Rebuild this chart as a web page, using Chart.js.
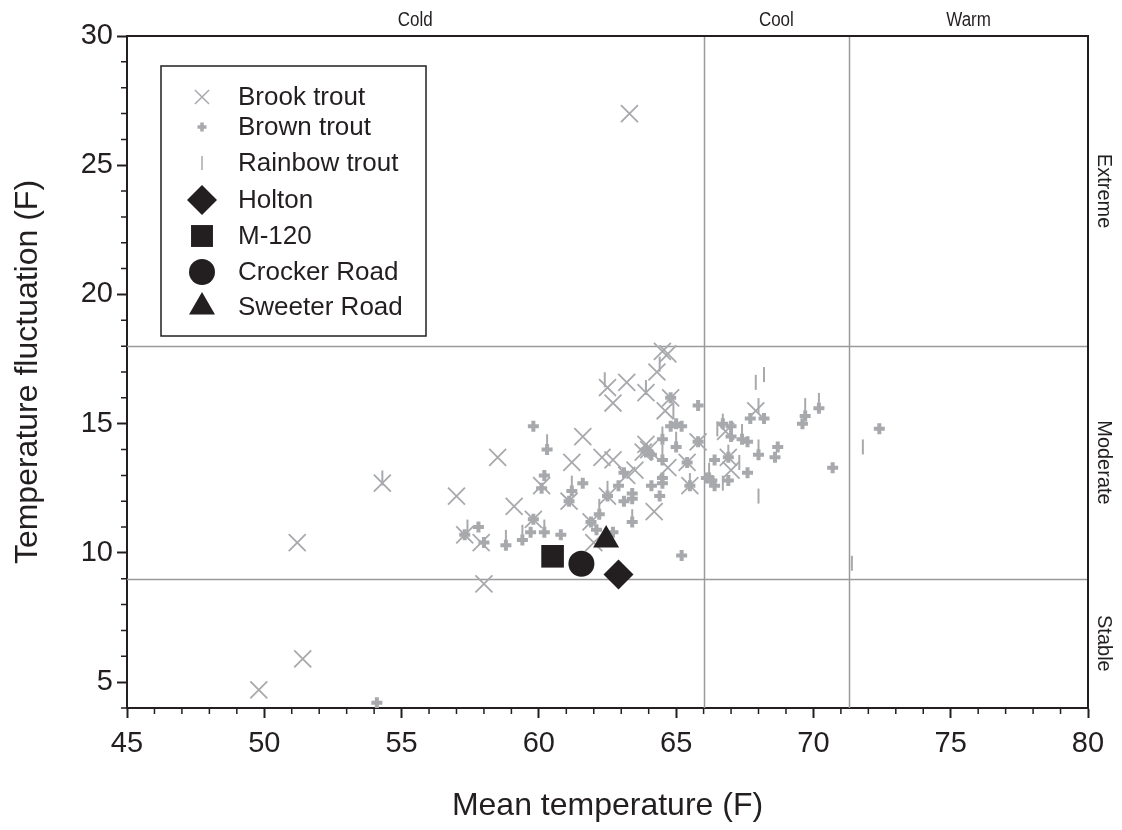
<!DOCTYPE html>
<html lang="en">
<head>
  <meta charset="UTF-8">
  <title>Stream temperature vs. fluctuation</title>
  <script src="https://cdn.jsdelivr.net/npm/chart.js"></script>
  <style>
    body {
      margin: 0;
      padding: 0;
      background: #ffffff;
    }
    .wrap {
      width: 1122px;
      height: 830px;
    }
  </style>
</head>
<body>

  <div class="wrap">
    <canvas id="tempChart" width="1122" height="830"></canvas>
  </div>

  <script>
    // Trout sites: mean temperature (F) and daily fluctuation (F)
    const brookTemp  = [63.3, 51.2, 54.3, 57.0, 51.4, 49.8, 58.0, 58.5, 59.1, 61.6, 61.2, 64.5, 64.7, 64.3, 62.5,
                        63.2, 63.9, 62.7, 64.8, 64.6, 62.3, 62.7, 63.9, 63.8, 63.5, 65.4, 65.8, 65.5, 64.2, 62.5,
                        61.1, 60.1, 59.8, 61.9, 62.0, 57.3, 57.9, 67.9, 66.8, 66.9, 67.0, 64.7, 63.2, 64.0];
    const brookFluct = [27.0, 10.4, 12.7, 12.2, 5.9, 4.7, 8.8, 13.7, 11.8, 14.5, 13.5, 17.8, 17.7, 17.0, 16.4,
                        16.6, 16.2, 15.8, 16.0, 15.5, 13.7, 13.6, 14.2, 13.9, 13.2, 13.5, 14.3, 12.6, 11.6, 12.2,
                        12.0, 12.6, 11.3, 11.2, 10.4, 10.7, 10.4, 15.5, 14.7, 13.7, 13.2, 13.3, 13.0, 14.0];

    const brownTemp  = [59.8, 60.3, 60.2, 60.1, 61.6, 61.2, 61.1, 57.8, 57.3, 58.0, 58.8, 59.4, 59.7, 60.2, 60.8,
                        59.8, 62.2, 62.1, 62.7, 61.9, 63.4, 63.1, 63.4, 63.4, 63.1, 62.9, 62.5, 65.2, 54.1, 72.4,
                        70.7, 70.2, 69.7, 69.6, 68.7, 68.6, 68.0, 67.6, 67.4, 67.6, 66.9, 66.4, 66.2, 66.4, 66.9,
                        67.0, 66.7, 67.0, 67.7, 68.2, 66.1, 65.8, 65.2, 65.0, 64.8, 64.8, 64.5, 65.0, 63.9, 64.1,
                        64.5, 64.5, 64.5, 64.1, 64.4, 65.4, 65.5, 65.8, 66.3, 63.9];
    const brownFluct = [14.9, 14.0, 13.0, 12.5, 12.7, 12.4, 12.0, 11.0, 10.7, 10.4, 10.3, 10.5, 10.8, 10.8, 10.7,
                        11.3, 11.5, 10.9, 10.8, 11.2, 11.2, 12.0, 12.3, 12.1, 13.1, 12.6, 12.2, 9.9, 4.2, 14.8,
                        13.3, 15.6, 15.3, 15.0, 14.1, 13.7, 13.8, 14.3, 14.4, 13.1, 12.8, 12.6, 12.9, 13.6, 13.7,
                        14.5, 15.0, 14.9, 15.2, 15.2, 12.9, 15.7, 14.9, 15.0, 14.9, 16.0, 14.4, 14.1, 14.0, 13.8,
                        13.6, 12.9, 12.7, 12.6, 12.2, 13.5, 12.6, 14.3, 12.8, 13.9];

    const rainbowTemp  = [54.3, 60.3, 61.2, 57.4, 58.8, 59.4, 60.2, 62.2, 63.4, 62.5, 62.4, 63.9, 64.4, 64.9, 64.5,
                          65.0, 64.5, 65.5, 67.9, 68.2, 71.8, 68.0, 71.4, 67.3, 70.2, 69.7, 68.0, 67.4, 68.0, 66.7,
                          66.9, 66.2, 66.7, 66.5];
    const rainbowFluct = [12.9, 14.3, 12.7, 11.0, 10.6, 10.8, 11.0, 11.8, 11.4, 12.5, 16.7, 16.4, 17.3, 15.5, 14.6,
                          14.4, 13.9, 12.8, 16.6, 16.9, 14.1, 12.2, 9.6, 13.5, 15.9, 15.7, 14.1, 14.7, 15.7, 15.1,
                          13.9, 13.2, 12.7, 14.8];

    const siteNames  = ['Holton', 'M-120', 'Crocker Road', 'Sweeter Road'];
    const siteTemp   = [62.9, 60.5, 61.55, 62.45];
    const siteFluct  = [9.17, 9.87, 9.58, 10.5];
    const siteStyles = ['rectRot', 'rect', 'circle', 'triangle'];
    const siteSizes  = [15, 16, 13, 15];

    // class boundaries
    const tempBreaks  = [66, 71.3];
    const fluctBreaks = [18, 9];
    const tempClasses  = [['Cold', 45, 66], ['Cool', 66, 71.3], ['Warm', 71.3, 80]];
    const fluctClasses = [['Extreme', 18, 30], ['Moderate', 9, 18], ['Stable', 4, 9]];

    const INK = '#231f20';
    const GREY = '#a7a9ac';
    const FONT = "'Liberation Sans', Arial, sans-serif";

    const toPoints = (xs, ys) => xs.map((x, i) => ({ x: x, y: ys[i] }));

    const datasets = [
      {
        label: 'Brook trout',
        data: toPoints(brookTemp, brookFluct),
        pointStyle: 'crossRot',
        pointRadius: 12,
        borderColor: GREY,
        backgroundColor: GREY,
        pointBorderWidth: 1.8,
        order: 3
      },
      {
        label: 'Brown trout',
        data: toPoints(brownTemp, brownFluct),
        pointStyle: 'cross',
        pointRadius: 5.5,
        borderColor: GREY,
        backgroundColor: GREY,
        pointBorderWidth: 4,
        order: 2
      },
      {
        label: 'Rainbow trout',
        data: toPoints(rainbowTemp, rainbowFluct),
        pointStyle: 'line',
        pointRotation: 90,
        pointRadius: 7.5,
        borderColor: GREY,
        backgroundColor: GREY,
        pointBorderWidth: 2,
        order: 1
      }
    ];

    siteNames.forEach((name, i) => {
      datasets.push({
        label: name,
        data: [{ x: siteTemp[i], y: siteFluct[i] }],
        pointStyle: siteStyles[i],
        pointRadius: siteSizes[i],
        borderColor: INK,
        backgroundColor: INK,
        pointBorderWidth: 0,
        order: 0
      });
    });

    const legendMarks = [
      { style: 'crossRot', r: 10, lw: 1.5, color: GREY },
      { style: 'cross', r: 4.5, lw: 3.5, color: GREY },
      { style: 'line', r: 7, lw: 1.5, color: GREY, rot: 90 },
      { style: 'rectRot', r: 15, lw: 0, color: INK },
      { style: 'rect', r: 15.5, lw: 0, color: INK },
      { style: 'circle', r: 13, lw: 0, color: INK },
      { style: 'triangle', r: 15, lw: 0, color: INK }
    ];

    // class lines, minor ticks, frame, class names and the legend box
    const decorations = {
      id: 'decorations',
      beforeDatasetsDraw(chart) {
        const { ctx, chartArea: a, scales: { x, y } } = chart;
        ctx.save();
        ctx.strokeStyle = '#9a9a9a';
        ctx.lineWidth = 1.5;
        tempBreaks.forEach(v => {
          const px = Math.round(x.getPixelForValue(v)) + 0.5;
          ctx.beginPath();
          ctx.moveTo(px, a.top);
          ctx.lineTo(px, a.bottom);
          ctx.stroke();
        });
        fluctBreaks.forEach(v => {
          const py = Math.round(y.getPixelForValue(v)) + 0.5;
          ctx.beginPath();
          ctx.moveTo(a.left, py);
          ctx.lineTo(a.right, py);
          ctx.stroke();
        });
        ctx.restore();
      },
      afterDraw(chart) {
        const { ctx, chartArea: a, scales: { x, y } } = chart;
        ctx.save();

        // frame top and right
        ctx.strokeStyle = INK;
        ctx.lineWidth = 2;
        ctx.beginPath();
        ctx.moveTo(a.left, a.top);
        ctx.lineTo(a.right, a.top);
        ctx.lineTo(a.right, a.bottom);
        ctx.stroke();

        // minor ticks every 1 F
        ctx.lineWidth = 1.5;
        ctx.beginPath();
        for (let v = 46; v < 80; v++) {
          if (v % 5 === 0) continue;
          const px = x.getPixelForValue(v);
          ctx.moveTo(px, a.bottom);
          ctx.lineTo(px, a.bottom + 6);
        }
        for (let v = 4; v < 30; v++) {
          if (v % 5 === 0) continue;
          const py = y.getPixelForValue(v);
          ctx.moveTo(a.left, py);
          ctx.lineTo(a.left - 6, py);
        }
        ctx.stroke();

        // temperature classes along the top, in a condensed face
        ctx.fillStyle = INK;
        ctx.font = '20px ' + FONT;
        ctx.textAlign = 'center';
        ctx.textBaseline = 'middle';
        tempClasses.forEach(([name, lo, hi]) => {
          const px = (x.getPixelForValue(lo) + x.getPixelForValue(hi)) / 2;
          ctx.save();
          ctx.translate(px, a.top - 16);
          ctx.scale(0.85, 1);
          ctx.fillText(name, 0, 0);
          ctx.restore();
        });

        // fluctuation classes down the right side
        ctx.font = '20px ' + FONT;
        fluctClasses.forEach(([name, lo, hi]) => {
          const py = (y.getPixelForValue(lo) + y.getPixelForValue(hi)) / 2;
          ctx.save();
          ctx.translate(a.right + 16, py);
          ctx.rotate(Math.PI / 2);
          ctx.fillText(name, 0, 0);
          ctx.restore();
        });

        // legend
        const box = { left: 161, top: 66, width: 265, height: 270 };
        ctx.fillStyle = '#ffffff';
        ctx.fillRect(box.left, box.top, box.width, box.height);
        ctx.strokeStyle = INK;
        ctx.lineWidth = 1.5;
        ctx.strokeRect(box.left, box.top, box.width, box.height);

        const rows = [97, 127, 163, 200, 236, 272, 307];
        ctx.font = '26px ' + FONT;
        ctx.textAlign = 'left';
        ctx.textBaseline = 'middle';
        datasets.map(d => d.label).forEach((label, i) => {
          const m = legendMarks[i];
          ctx.fillStyle = m.color;
          ctx.strokeStyle = m.color;
          ctx.lineWidth = m.lw;
          Chart.helpers.drawPoint(ctx, { pointStyle: m.style, radius: m.r, rotation: m.rot || 0, borderWidth: m.lw }, 202, rows[i]);
          ctx.fillStyle = INK;
          ctx.fillText(label, 238, rows[i] + 1);
        });

        ctx.restore();
      }
    };

    const ctx = document.getElementById('tempChart').getContext('2d');
    const tempChart = new Chart(ctx, {
      type: 'scatter',
      data: { datasets: datasets },
      options: {
        responsive: false,
        animation: false,
        layout: {
          padding: { top: 36, right: 34, left: 0, bottom: 0 }
        },
        plugins: {
          legend: { display: false },
          tooltip: { enabled: false }
        },
        scales: {
          x: {
            type: 'linear',
            min: 45,
            max: 80,
            afterFit: s => { s.height = 122; },
            ticks: {
              stepSize: 5,
              color: INK,
              padding: 9,
              font: { family: FONT, size: 29 }
            },
            grid: {
              drawOnChartArea: false,
              drawTicks: true,
              tickLength: 10,
              tickWidth: 2,
              tickColor: INK
            },
            border: { display: true, color: INK, width: 2 },
            title: {
              display: true,
              text: 'Mean temperature (F)',
              color: INK,
              font: { family: FONT, size: 32 },
              padding: { top: 0, bottom: 5 }
            }
          },
          y: {
            type: 'linear',
            min: 4,
            max: 30,
            afterFit: s => { s.width = 127; },
            afterBuildTicks: s => { s.ticks = s.ticks.filter(t => t.value % 5 === 0); },
            ticks: {
              stepSize: 5,
              color: INK,
              padding: 4,
              font: { family: FONT, size: 29 }
            },
            grid: {
              drawOnChartArea: false,
              drawTicks: true,
              tickLength: 10,
              tickWidth: 2,
              tickColor: INK
            },
            border: { display: true, color: INK, width: 2 },
            title: {
              display: true,
              text: 'Temperature fluctuation (F)',
              color: INK,
              font: { family: FONT, size: 32 },
              padding: { top: 9, bottom: 0 }
            }
          }
        }
      },
      plugins: [decorations]
    });
  </script>

</body>
</html>
